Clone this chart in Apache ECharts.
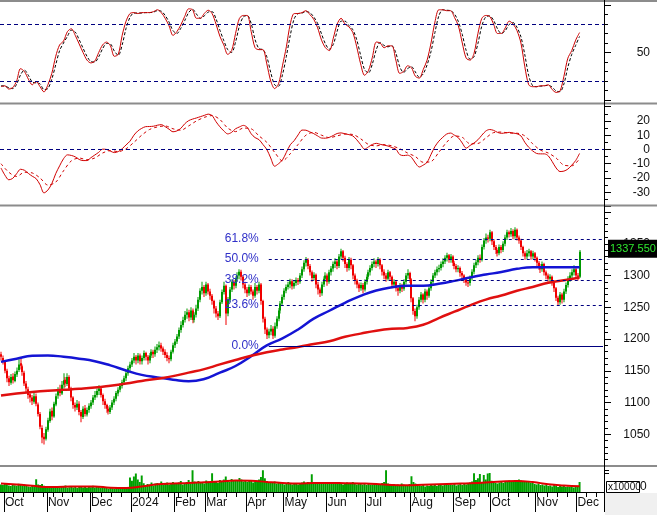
<!DOCTYPE html>
<html><head><meta charset="utf-8">
<script src="https://cdn.jsdelivr.net/npm/echarts@6/dist/echarts.min.js"></script>
<style>html,body{margin:0;padding:0;background:#fff}#c{width:657px;height:515px}</style>
</head><body><div id="c"></div>
<script>
// ---------- categories (trading calendar) ----------
const firstDay = '2023-09-28';
const slotCount = 309;           // trading-day slots on the x axis (data + empty right margin)
const holidays = ['2024-01-01','2024-02-08','2024-02-09','2024-02-12','2024-02-13','2024-02-14',
  '2024-04-18','2024-04-29','2024-04-30','2024-05-01','2024-09-02','2024-09-03'];
const monthLabels = ['Oct','Nov','Dec','2024','Feb','Mar','Apr','May','Jun','Jul','Aug','Sep','Oct','Nov','Dec'];

// ---------- price candles [open, close, low, high] ----------
const ohlc = [
[1176,1172,1166,1180],[1170,1165,1160,1174],[1164,1150,1146,1166],[1150,1138,1132,1153],[1138,1132,1126,1142],
[1131,1140,1128,1145],[1141,1135,1130,1146],[1134,1145,1132,1149],[1144,1150,1140,1155],[1151,1160,1148,1168],
[1162,1158,1152,1170],[1157,1148,1142,1160],[1147,1130,1126,1150],[1130,1122,1116,1134],[1121,1112,1106,1125],
[1113,1108,1100,1118],[1108,1102,1096,1112],[1101,1110,1098,1116],[1110,1098,1094,1114],[1097,1082,1078,1100],
[1082,1062,1058,1085],[1060,1045,1036,1064],[1046,1042,1034,1052],[1043,1058,1040,1062],[1057,1072,1054,1076],
[1071,1086,1068,1090],[1087,1078,1072,1092],[1078,1098,1076,1101],[1097,1110,1094,1114],[1111,1120,1106,1124],
[1121,1115,1110,1128],[1114,1128,1112,1134],[1128,1135,1122,1146],[1136,1130,1124,1140],[1129,1140,1126,1146],
[1140,1122,1118,1143],[1122,1108,1102,1125],[1108,1096,1090,1110],[1096,1092,1086,1100],[1092,1098,1088,1104],
[1098,1085,1080,1102],[1085,1078,1069,1088],[1077,1090,1074,1094],[1091,1082,1078,1096],[1081,1088,1078,1092],
[1088,1095,1084,1099],[1094,1100,1090,1104],[1100,1108,1096,1112],[1108,1112,1104,1118],[1112,1118,1108,1122],
[1118,1122,1112,1127],[1122,1112,1108,1125],[1112,1102,1096,1114],[1102,1096,1090,1106],[1096,1090,1084,1098],
[1090,1086,1081,1094],[1085,1092,1082,1096],[1092,1100,1088,1104],[1100,1106,1096,1110],[1106,1115,1102,1118],
[1114,1120,1110,1124],[1120,1126,1116,1130],[1126,1132,1122,1136],[1132,1138,1128,1142],[1138,1146,1134,1150],
[1146,1154,1142,1158],[1154,1160,1150,1164],[1160,1166,1156,1170],[1166,1172,1162,1178],[1172,1166,1160,1175],
[1166,1174,1162,1178],[1174,1165,1160,1177],[1165,1170,1160,1174],[1170,1178,1166,1182],[1178,1172,1166,1180],
[1172,1166,1160,1175],[1166,1174,1162,1178],[1174,1180,1170,1184],[1180,1176,1170,1183],[1176,1183,1172,1188],
[1183,1187,1178,1192],[1187,1190,1182,1196],[1190,1185,1180,1194],[1185,1180,1175,1188],[1180,1175,1170,1184],
[1175,1170,1165,1179],[1170,1168,1162,1174],[1168,1180,1165,1183],[1180,1190,1177,1194],[1190,1196,1186,1200],
[1196,1204,1192,1208],[1204,1214,1200,1218],[1214,1222,1210,1228],[1222,1230,1218,1235],[1230,1238,1226,1244],
[1238,1242,1232,1248],[1242,1234,1228,1246],[1234,1245,1230,1250],[1245,1230,1225,1248],[1230,1238,1226,1242],
[1238,1248,1234,1254],[1248,1262,1244,1266],[1262,1276,1258,1280],[1276,1282,1270,1290],[1282,1272,1266,1285],
[1272,1286,1268,1290],[1286,1275,1270,1288],[1275,1268,1262,1279],[1268,1260,1254,1271],[1260,1248,1240,1262],
[1248,1240,1234,1252],[1240,1236,1230,1244],[1236,1258,1233,1262],[1258,1274,1255,1278],[1274,1284,1270,1290],
[1284,1240,1222,1286],[1240,1262,1236,1266],[1262,1278,1258,1282],[1278,1290,1274,1294],[1290,1284,1278,1293],
[1284,1295,1280,1299],[1295,1300,1290,1305],[1300,1306,1294,1310],[1306,1298,1292,1309],[1298,1286,1280,1300],
[1286,1278,1272,1290],[1278,1272,1266,1282],[1272,1282,1268,1286],[1282,1275,1270,1285],[1275,1268,1262,1278],
[1268,1282,1265,1288],[1282,1276,1270,1285],[1276,1286,1272,1290],[1286,1260,1254,1288],[1260,1232,1226,1262],
[1232,1215,1208,1235],[1215,1206,1200,1218],[1206,1212,1201,1216],[1212,1216,1206,1222],[1216,1205,1200,1220],
[1205,1220,1202,1226],[1220,1232,1216,1236],[1232,1245,1228,1249],[1245,1256,1240,1260],[1256,1266,1252,1270],
[1266,1276,1262,1280],[1276,1282,1272,1286],[1282,1286,1278,1290],[1286,1291,1280,1295],[1291,1283,1278,1294],
[1283,1288,1279,1292],[1288,1293,1284,1297],[1293,1290,1285,1296],[1290,1300,1287,1304],[1300,1310,1296,1314],
[1310,1320,1306,1324],[1320,1325,1314,1329],[1325,1315,1310,1327],[1315,1305,1300,1318],[1305,1296,1290,1308],
[1296,1301,1292,1305],[1301,1286,1280,1303],[1286,1278,1270,1290],[1278,1272,1266,1281],[1272,1286,1268,1290],
[1286,1295,1282,1299],[1295,1300,1290,1305],[1300,1290,1284,1303],[1290,1305,1287,1309],[1305,1311,1300,1315],
[1311,1318,1306,1322],[1318,1322,1312,1327],[1322,1315,1310,1325],[1315,1330,1312,1334],[1330,1338,1326,1342],
[1338,1328,1322,1340],[1328,1318,1312,1331],[1318,1312,1306,1321],[1312,1325,1308,1329],[1325,1316,1310,1328],
[1316,1300,1294,1318],[1300,1292,1286,1303],[1292,1286,1280,1295],[1286,1280,1274,1289],[1280,1285,1276,1289],
[1285,1278,1272,1288],[1278,1290,1275,1294],[1290,1298,1286,1302],[1298,1305,1294,1309],[1305,1312,1300,1316],
[1312,1318,1308,1322],[1318,1322,1313,1327],[1322,1318,1312,1325],[1318,1325,1314,1329],[1325,1316,1310,1327],
[1316,1306,1300,1318],[1306,1300,1294,1310],[1300,1295,1290,1304],[1295,1305,1292,1309],[1305,1298,1292,1307],
[1298,1286,1280,1300],[1286,1290,1282,1294],[1290,1280,1275,1293],[1280,1276,1268,1284],[1276,1284,1272,1288],
[1284,1279,1274,1287],[1279,1290,1276,1294],[1290,1300,1286,1304],[1300,1304,1295,1310],[1304,1294,1288,1306],
[1294,1264,1258,1296],[1264,1244,1238,1266],[1244,1236,1228,1248],[1236,1250,1232,1254],[1250,1262,1246,1266],
[1262,1270,1258,1274],[1270,1262,1256,1272],[1262,1275,1258,1279],[1275,1268,1262,1278],[1268,1280,1265,1284],
[1280,1290,1276,1294],[1290,1300,1286,1304],[1300,1305,1296,1309],[1305,1310,1300,1314],[1310,1312,1305,1317],
[1312,1318,1308,1322],[1318,1322,1313,1327],[1322,1328,1318,1332],[1328,1332,1322,1336],[1332,1325,1320,1334],
[1325,1330,1320,1334],[1330,1320,1315,1332],[1320,1315,1310,1323],[1315,1310,1305,1318],[1310,1312,1305,1316],
[1312,1304,1298,1314],[1304,1300,1294,1307],[1300,1294,1288,1302],[1294,1289,1284,1297],[1289,1288,1282,1293],
[1288,1296,1284,1300],[1296,1306,1292,1310],[1306,1316,1302,1320],[1316,1321,1312,1325],[1321,1328,1316,1332],
[1328,1325,1320,1333],[1325,1345,1322,1349],[1345,1355,1341,1359],[1355,1360,1350,1366],[1360,1358,1352,1364],
[1358,1368,1354,1372],[1368,1354,1348,1370],[1354,1345,1340,1357],[1345,1340,1334,1348],[1340,1335,1330,1343],
[1335,1345,1332,1349],[1345,1340,1335,1348],[1340,1350,1337,1354],[1350,1360,1346,1364],[1360,1368,1356,1372],
[1368,1365,1360,1371],[1365,1370,1361,1375],[1370,1362,1357,1373],[1362,1372,1358,1376],[1372,1360,1355,1374],
[1360,1355,1350,1363],[1355,1345,1340,1358],[1345,1335,1330,1347],[1335,1330,1325,1338],[1330,1335,1326,1340],
[1335,1338,1330,1342],[1338,1330,1325,1340],[1330,1335,1326,1339],[1335,1328,1322,1337],[1328,1320,1315,1330],
[1320,1315,1309,1323],[1315,1310,1304,1318],[1310,1318,1306,1322],[1318,1305,1300,1320],[1305,1300,1294,1308],
[1300,1295,1290,1303],[1295,1298,1290,1302],[1298,1290,1284,1300],[1290,1280,1274,1292],[1280,1265,1260,1282],
[1265,1258,1252,1268],[1258,1270,1254,1274],[1270,1262,1256,1273],[1262,1275,1258,1279],[1275,1285,1271,1289],
[1285,1295,1281,1299],[1295,1300,1290,1305],[1300,1305,1296,1310],[1305,1310,1300,1316],[1310,1300,1295,1312],
[1300,1298,1292,1304],[1298,1337.55,1296,1340]
];

// ---------- moving averages on price (one value every 8 trading days) ----------
const maStep = 8;
const maBlue = [1164,1169,1173.5,1174,1172,1169,1165,1158.5,1150.5,1143.5,1139.5,1136,1133.5,1137,1147,1157.5,1173,1190,1201,1215,
  1232,1244.5,1257,1268,1276.5,1281.5,1284,1284,1287,1291.5,1297,1301.5,1305.5,1310.5,1313,1313,1313,1313];
const maRed = [1111,1114,1116.5,1118.5,1120,1121.5,1123.5,1126.5,1130,1134,1137.5,1141.5,1147,1152.5,1160,1167,1173.5,1179,1183.5,1187.5,
  1192,1196.5,1203.5,1208.5,1213,1216,1217.5,1222.5,1233,1243,1253,1262,1268.5,1276,1282,1288.5,1292.5,1297];

// ---------- Fibonacci retracement ----------
const fibPcts = ['0.0%','23.6%','38.2%','50.0%','61.8%'];
const fibValues = [1189,1253.5,1293,1326,1357.5];
const fibStartSlot = 137;

// ---------- volume (x10000) ----------
const volumes = [
30,28,35,32,26,24,30,27,25,33, 28,26,30,24,22,20,25,22,51,30, 28,32,25,22,18,20,17,22,19,21,
18,24,20,26,17,19,22,18,20,16, 24,20,18,22,17,23,19,25,18,21, 20,17,22,16,19,14,18,15,13,20,
12,16,14,18,15,20,58,45,62,74, 50,40,66,35,28,32,30,38,26,34, 36,30,42,28,33,38,30,36,40,32,
34,38,44,30,36,40,48,35,87,42, 38,44,36,40,34,46,42,38,75,44, 40,36,48,42,50,62,44,40,52,46,
48,44,56,50,42,46,40,44,48,38, 42,46,50,60,87,55,44,38,40,36, 42,34,38,36,32,30,36,40,34,30,
32,36,30,34,38,42,36,40,38,71, 40,36,34,38,32,36,40,34,38,36, 34,32,36,40,35,30,34,38,32,36,
40,34,30,36,32,30,34,28,32,30, 30,34,28,32,30,36,40,87,34,30, 28,32,26,30,28,34,30,26,28,32,
63,40,34,30,26,24,28,22,26,24, 28,26,30,24,28,32,26,30,34,28, 30,28,34,26,30,32,28,36,30,34,
38,42,75,48,55,72,40,68,50,74, 76,45,40,36,34,38,40,36,42,44, 46,40,44,48,42,50,46,40,44,42,
40,38,36,32,30,34,28,30,26,28, 24,26,22,28,24,20,26,22,24,20, 22,20,24,18,22,20,40];
const volMA = [34,30,25,20,21,22,22,17,16,22,31,34,36,39,42,46,45,40,36,34,36,36,35,34,32,28,27,29,31,33,35,38,42,44,40,31,26,23];

// ---------- stochastic (%K and %D, one value every 2 days) ----------
const stochK = [14,15,11.5,13,20,33,30,22,16,19.5, 14,8.5,16,28,46,58,62,72,75,68, 59,50,42,39,41,50,58,61,57,46,
  48,68,83,91,92,91,92,92,92,93, 95,92,86,78,68,72,79,88,96,95, 86,86,91,94.5,91,80,67,58,48,52,
  70,86,89,89,72,55,53,53,38,20, 12,17,36,56,80,91,91,92,94,90, 85,76,63,55,52,65,80,86,80,77,
  71,56,38,26,31,45,61,60,55,57, 57,42,28,30,36,34,25,23,32,42, 60,82,95,95,94,94,87,78,60,44,
  42,49,70,86,89,88,80,70,70,76, 83,80,73,60,35,16,14,14,15,15, 16,11,8,9.5,25,44,52,63,71];
const stochD = [15,14.5,13,12,16.5,26.5,31.5,26,19,18, 17,11,12,22,37,52,60,67,73.5,71.5,
  63.5,54.5,46,40.5,40,45.5,54,59.5,59,51.5, 47,58,75.5,87,91.5,91.5,91.5,92,92,92.5,
  94,93.5,89,82,73,70,75.5,83.5,92,95.5, 90.5,86,88.5,92.5,93,85.5,73.5,62.5,53,50,
  61,78,87.5,89,80.5,63.5,54,53,45.5,29, 16,14.5,26.5,46,68,85.5,91,91.5,93,92,
  87.5,80.5,69.5,59,53.5,58.5,72.5,83,83,78.5, 74,63.5,47,32,28.5,38,53,60.5,57.5,56,
  57,49.5,35,29,33,35,29.5,24,27.5,37, 51,71,88.5,95,94.5,94,90.5,82.5,69,52,
  43,45.5,59.5,78,87.5,88.5,84,75,70,73, 79.5,81.5,76.5,66.5,47.5,25.5,15,14,14.5,15,
  15.5,13.5,9.5,8.75,17,34.5,48,57.5,67];

// ---------- MACD (line every 2 days, signal every 4 days) ----------
const macdLine = [-13,-18,-21.3,-20.3,-17,-13.9,-14.6,-16.8,-18.8,-20.5, -24.8,-30.5,-28.5,-24,-17,-11.5,-6.5,-3.8,-4.2,-5.2,
  -7,-7.8,-7.8,-5.8,-3.9,-2,0.2,0,-1.2,-2.2, -1.5,0.5,3.2,5.8,10,13,14.8,16,16.1,16.3,
  17,17.4,16,14.2,12.4,13,14.8,18,20.2,21.3, 22.1,23,23.9,24.8,23.8,19.5,15.9,13,10.9,12,
  14.5,15.8,16.9,15.5,11,8.3,6.9,3.5,0,-6, -11.8,-10,-7.4,-2,3.3,6.2,10.2,13.6,13.5,12.3,
  11.1,9.5,8,7.9,8.5,9.8,11.2,11.6,11,10.4, 9.5,6.8,3.4,0.2,1.8,3.5,4.3,3.6,3,2.4,
  1.3,0.2,-3.6,-4.3,-4,-5.5,-9.5,-12.3,-11,-9, -3.5,2,5.8,8.5,10.8,11.5,10,8.2,4.5,0.9,
  2.8,4.5,6.8,10,12.9,14,13.4,12,11.3,11.6, 12,11.5,11,9.5,5,1.5,-1,-2.8,-3.1,-3.1,
  -4.5,-8.5,-13,-15.5,-15.2,-13.8,-11,-7.8,-2.8];
const macdSignal = [-10,-16,-19,-16,-16.5,-20,-25,-23,-15,-8, -6,-7.2,-6,-2.5,-0.8,-1.5,0.5,5,10,14,
  15.8,16.5,14.5,13.5,16.5,20,22.5,23.8,21,15, 12.5,15,14.5,9.5,5,-2,-8,-3,3.5,10,
  12,10,8.3,9.5,10.8,10.5,7.5,3.5,2.5,3.4, 2.5,0.5,-2.5,-5,-9,-8.5,-2,5,9.5,8.5,
  4,4.2,8,11.8,12.2,11.5,11.4,9.5,4,-0.5, -2.5,-6,-11,-11.5,-6.5];

// ---------- build calendar ----------
function tradingDays(start, count) {
  const out = []; const d = new Date(start + 'T00:00:00Z');
  while (out.length < count) {
    const wd = d.getUTCDay(); const s = d.toISOString().slice(0, 10);
    if (wd !== 0 && wd !== 6 && holidays.indexOf(s) < 0) out.push(s);
    d.setUTCDate(d.getUTCDate() + 1);
  }
  return out;
}
const dates = tradingDays(firstDay, slotCount);
const monthLabelAt = {}; const weekSet = new Set();
let m = 0;
for (let i = 1; i < dates.length; i++) {
  if (dates[i].slice(5, 7) !== dates[i - 1].slice(5, 7) && m < monthLabels.length) { monthLabelAt[i] = monthLabels[m++]; }
  const a = new Date(dates[i] + 'T00:00:00Z').getUTCDay(), b = new Date(dates[i - 1] + 'T00:00:00Z').getUTCDay();
  if (a <= b) weekSet.add(i);
}
const isMonth = i => monthLabelAt[i] !== undefined;
const stepped = (arr, step) => arr.map((v, i) => [i * step, v]);

const FONT = "'Liberation Sans', Arial, sans-serif";
const BLACK = '#000';
const UP = '#009a00', DOWN = '#f00000';
function yAxisDef(grid, min, max, interval, split, labelFn) {
  return {
    gridIndex: grid, type: 'value', position: 'right', min: min, max: max, interval: interval,
    axisLine: { show: false }, splitLine: { show: false },
    axisTick: { show: true, length: 7, lineStyle: { color: BLACK } },
    minorTick: { show: split > 1, splitNumber: split, length: 4, lineStyle: { color: BLACK } },
    minorSplitLine: { show: false },
    axisLabel: { show: true, color: '#111', fontSize: 12, fontFamily: FONT, align: 'right', margin: 46, formatter: labelFn }
  };
}
const hiddenX = g => ({ gridIndex: g, type: 'category', data: dates, boundaryGap: true, show: false });

// candle drawn with a 1px wick and a 2px body, positioned by the axes
function renderCandle(params, api) {
  const i = api.value(0), o = api.value(1), c = api.value(2), l = api.value(3), h = api.value(4);
  const pO = api.coord([i, o]), pC = api.coord([i, c]), pL = api.coord([i, l]), pH = api.coord([i, h]);
  const x = Math.floor(pO[0] - 0.5);
  const col = c >= o ? UP : DOWN;
  const top = Math.min(pO[1], pC[1]), bot = Math.max(pO[1], pC[1]);
  return { type: 'group', children: [
    { type: 'rect', shape: { x: x + 0.5, y: pH[1], width: 1, height: pL[1] - pH[1] }, style: { fill: col } },
    { type: 'rect', shape: { x: x, y: top, width: 2, height: Math.max(1, bot - top) }, style: { fill: col } }
  ] };
}

const chart = echarts.init(document.getElementById('c'), null, { renderer: 'canvas', width: 657, height: 515 });
chart.setOption({
  animation: false,
  backgroundColor: '#fff',
  grid: [
    { left: 0, right: 53, top: 5, height: 95 },
    { left: 0, right: 53, top: 106.7, height: 99.75 },
    { left: 0, right: 53, top: 212, height: 254 },
    { left: 0, right: 53, top: 467, height: 25 },
    { left: 0, right: 53, top: 467, height: 25 }
  ],
  xAxis: [
    hiddenX(0), hiddenX(1), hiddenX(2),
    { gridIndex: 3, type: 'category', data: dates, boundaryGap: true, position: 'bottom',
      axisLine: { show: true, lineStyle: { color: BLACK, width: 1 } },
      axisTick: { show: true, interval: (i) => isMonth(i), length: 20, lineStyle: { color: BLACK } },
      axisLabel: { show: true, interval: (i) => isMonth(i), formatter: (v, i) => monthLabelAt[i] || '',
        align: 'left', margin: 5, color: '#111', fontSize: 12, fontFamily: FONT },
      splitLine: { show: false } },
    { gridIndex: 4, type: 'category', data: dates, boundaryGap: true, position: 'bottom',
      axisLine: { show: false },
      axisTick: { show: true, interval: (i) => weekSet.has(i), length: 5, lineStyle: { color: BLACK } },
      axisLabel: { show: false }, splitLine: { show: false } }
  ],
  yAxis: [
    yAxisDef(0, 0, 100, 50, 5, v => (v === 50 ? '50' : '')),
    yAxisDef(1, -40, 30, 10, 2, v => (v >= -30 && v <= 20 ? String(v) : '')),
    yAxisDef(2, 1000, 1400, 50, 5, v => (v > 1000 && v < 1400 ? String(v) : '')),
    { gridIndex: 3, type: 'value', position: 'right', min: 0, max: 100,
      axisLine: { show: false }, splitLine: { show: false },
      axisTick: { show: true, length: 5, customValues: [86, 75], lineStyle: { color: BLACK } },
      axisLabel: { show: false } },
    { gridIndex: 4, type: 'value', show: false, min: 0, max: 1 }
  ],
  series: [
    { name: '%K', type: 'line', xAxisIndex: 0, yAxisIndex: 0, data: stepped(stochK, 2), showSymbol: false, smooth: 0.3,
      lineStyle: { color: '#cc0000', width: 1 }, z: 4,
      markLine: { silent: true, symbol: 'none', label: { show: false },
        lineStyle: { color: '#000080', type: [4, 3], width: 1 }, data: [{ yAxis: 80 }, { yAxis: 20 }] } },
    { name: '%D', type: 'line', xAxisIndex: 0, yAxisIndex: 0, data: stepped(stochD, 2), showSymbol: false, smooth: 0.3,
      lineStyle: { color: '#000', width: 1, type: [3, 2] }, z: 3 },
    { name: 'MACD', type: 'line', xAxisIndex: 1, yAxisIndex: 1, data: stepped(macdLine, 2), showSymbol: false, smooth: 0.3,
      lineStyle: { color: '#d00000', width: 1 }, z: 4,
      markLine: { silent: true, symbol: 'none', label: { show: false },
        lineStyle: { color: '#000080', type: [4, 3], width: 1 }, data: [{ yAxis: 0 }] } },
    { name: 'Signal', type: 'line', xAxisIndex: 1, yAxisIndex: 1, data: stepped(macdSignal, 4), showSymbol: false, smooth: 0.3,
      lineStyle: { color: '#d00000', width: 1, type: [3, 3] }, z: 3 },
    { name: 'Fibo', type: 'line', xAxisIndex: 2, yAxisIndex: 2, data: [], z: 1,
      markLine: { silent: true, symbol: 'none',
        data: fibValues.map((v, k) => [
          { coord: [fibStartSlot, v],
            label: { show: true, position: 'start', distance: 10, formatter: fibPcts[k], color: '#3030c8', fontSize: 12, fontFamily: FONT },
            lineStyle: { color: '#000080', width: 1, type: k === 0 ? 'solid' : [3, 3] } },
          { coord: [slotCount - 1, v] }
        ]) } },
    { name: 'Price', type: 'custom', xAxisIndex: 2, yAxisIndex: 2, z: 3, clip: true,
      data: ohlc.map((d, i) => [i, d[0], d[1], d[2], d[3]]),
      encode: { x: 0, y: [1, 2, 3, 4] }, renderItem: renderCandle },
    { name: 'MA blue', type: 'line', xAxisIndex: 2, yAxisIndex: 2, data: stepped(maBlue, maStep), showSymbol: false, smooth: 0.5,
      lineStyle: { color: '#1414d4', width: 2.5 }, z: 4 },
    { name: 'MA red', type: 'line', xAxisIndex: 2, yAxisIndex: 2, data: stepped(maRed, maStep), showSymbol: false, smooth: 0.5,
      lineStyle: { color: '#e01010', width: 2.5 }, z: 4 },
    { name: 'Volume', type: 'bar', xAxisIndex: 3, yAxisIndex: 3, data: volumes, barWidth: '100%', z: 2,
      itemStyle: { color: '#00a000' } },
    { name: 'Vol MA', type: 'line', xAxisIndex: 3, yAxisIndex: 3, data: stepped(volMA, maStep), showSymbol: false, smooth: 0.5,
      lineStyle: { color: '#e00000', width: 2 }, z: 3 }
  ]
});

// ---------- decorations: panel borders, axis line, last-price box ----------
const lastClose = ohlc[ohlc.length - 1][1];
const yLast = chart.convertToPixel({ yAxisIndex: 2 }, lastClose);
const sep = y => ({ type: 'rect', shape: { x: 0, y: y, width: 657, height: 2 }, style: { fill: '#8c8c8c' }, z: 50, silent: true });
chart.setOption({
  graphic: [
    sep(0), sep(102.5), sep(204.5), sep(465),
    { type: 'rect', shape: { x: 605, y: 493, width: 52, height: 22 }, style: { fill: '#f0f0f0' }, z: 50, silent: true },
    { type: 'line', shape: { x1: 604.5, y1: 0, x2: 604.5, y2: 493 }, style: { stroke: '#000', lineWidth: 1 }, z: 60, silent: true },
    { type: 'rect', shape: { x: 608, y: yLast - 12, width: 49, height: 18 }, style: { fill: '#000' }, z: 70, silent: true },
    { type: 'text', x: 610, y: yLast - 2.5, style: { text: lastClose.toFixed(3), fill: '#2ee82e', fontSize: 11, fontFamily: FONT, verticalAlign: 'middle', align: 'left' }, z: 71, silent: true },
    { type: 'text', x: 640, y: 487, style: { text: '0', fill: '#111', fontSize: 12, fontFamily: FONT, verticalAlign: 'middle', align: 'left' }, z: 70, silent: true },
    { type: 'rect', shape: { x: 606.5, y: 481.5, width: 33, height: 11 }, style: { fill: '#fff', stroke: '#000', lineWidth: 1 }, z: 71, silent: true },
    { type: 'text', x: 608, y: 487.5, style: { text: 'x10000', fill: '#111', fontSize: 10, fontFamily: FONT, verticalAlign: 'middle', align: 'left' }, z: 72, silent: true }
  ]
});
</script>
</body></html>
